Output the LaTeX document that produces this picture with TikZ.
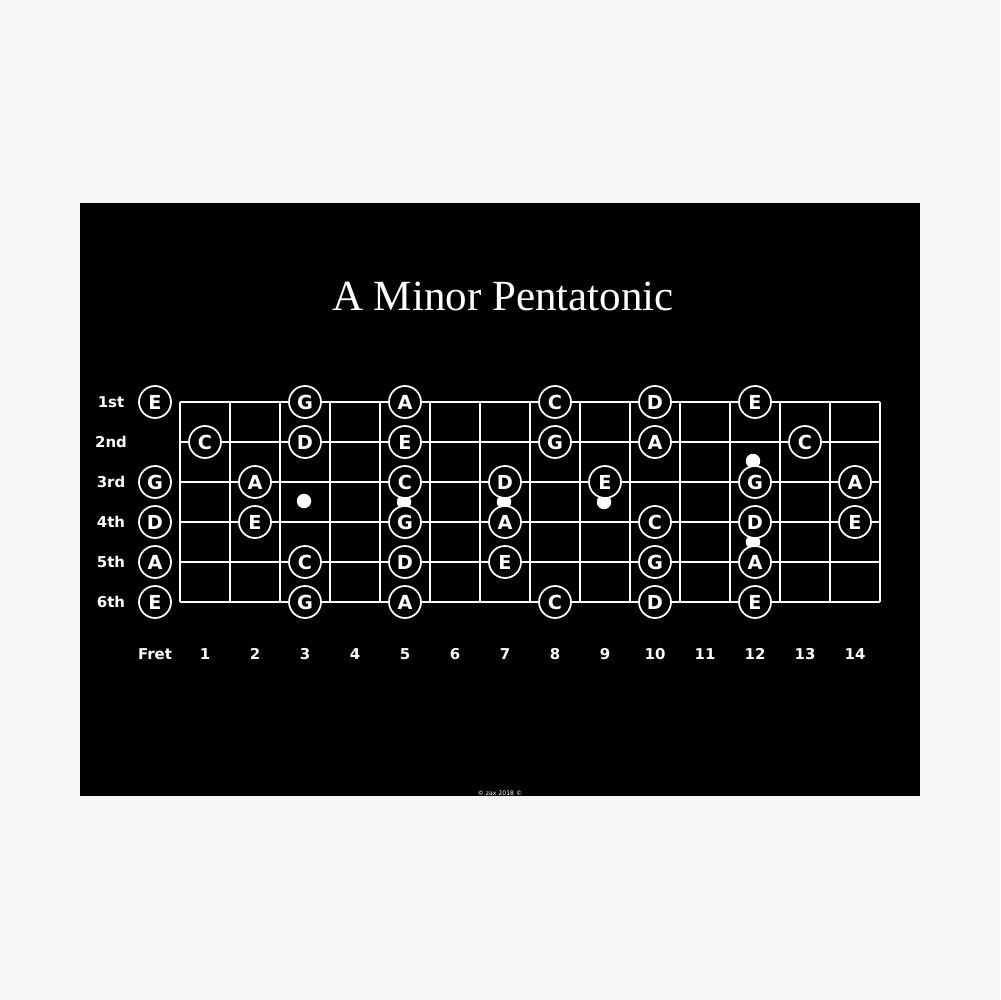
\documentclass[tikz,border=0pt]{standalone}
\usepackage{fontspec}
\setmainfont{Liberation Serif}
\newfontfamily\boldsans{DejaVu Sans}
\definecolor{paper}{HTML}{F6F6F6}

\tikzstyle{board} = [fill=black]
\tikzstyle{wire} = [draw=white,line width=1.2pt]
\tikzstyle{note} = [circle,draw=white,line width=1pt,fill=black,minimum size=0.64cm,inner sep=0pt,text=white,font=\boldsans\bfseries\fontsize{11}{11}\selectfont]
\tikzstyle{marker} = [circle,fill=white,minimum size=0.29cm,inner sep=0pt]
\tikzstyle{rowname} = [text=white,font=\boldsans\bfseries\fontsize{8.5}{8.5}\selectfont]
\tikzstyle{heading} = [text=white,anchor=base,font=\fontsize{24.5}{24.5}\selectfont]

\begin{document}
\begin{tikzpicture}[x=0.02cm,y=-0.02cm]
      % background
      \fill[paper] (0,0) rectangle (1000,1000);
      \fill[board] (80,203) rectangle (920,796);
      \node[heading] (title) at (503,310) {A Minor Pentatonic};
      % strings and frets
      \foreach \s in {1,...,6}
        \path[wire] (180,{362+40*\s}) -- (880,{362+40*\s});
      \foreach \f in {0,...,14}
        \path[wire] ({180+50*\f},402) -- ({180+50*\f},602);
      % fret markers
      \foreach \dotname/\x/\y in {dot3/304/501, dot5/404/502, dot7/504/502, dot9/604/502, dot12a/753/461, dot12b/753/542}
        \node[marker] (\dotname) at (\x,\y) {};
      % string names
      \foreach \s/\txt in {1/1st, 2/2nd, 3/3rd, 4/4th, 5/5th, 6/6th}
        \node[rowname] (string\s) at (111,{362+40*\s}) {\txt};
      % fret numbers
      \node[rowname] (fret0) at (155,654) {Fret};
      \foreach \f in {1,...,14}
        \node[rowname] (fret\f) at ({155+50*\f},654) {\f};
      % notes
      \foreach \s/\f/\n in {
        1/0/E, 1/3/G, 1/5/A, 1/8/C, 1/10/D, 1/12/E,
        2/1/C, 2/3/D, 2/5/E, 2/8/G, 2/10/A, 2/13/C,
        3/0/G, 3/2/A, 3/5/C, 3/7/D, 3/9/E, 3/12/G, 3/14/A,
        4/0/D, 4/2/E, 4/5/G, 4/7/A, 4/10/C, 4/12/D, 4/14/E,
        5/0/A, 5/3/C, 5/5/D, 5/7/E, 5/10/G, 5/12/A,
        6/0/E, 6/3/G, 6/5/A, 6/8/C, 6/10/D, 6/12/E}
      {
        \node[note] (n\s-\f) at ({155+50*\f},{362+40*\s}) {\n};
      };
      \node[text=white,font=\boldsans\fontsize{3.5}{3.5}\selectfont] (credit) at (500,793) {© zax 2018 ©};
    \end{tikzpicture}
\end{document}
